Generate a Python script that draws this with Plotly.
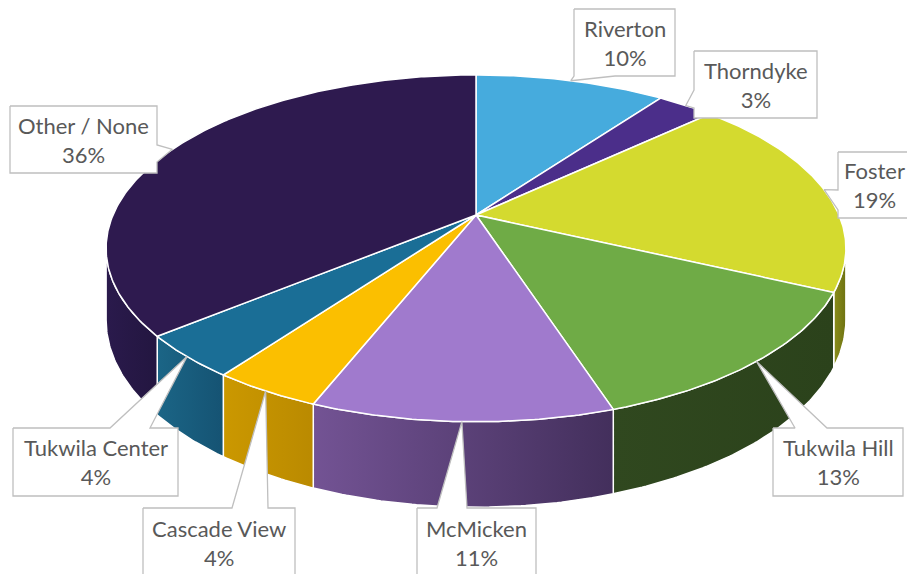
import numpy as np
import plotly.graph_objects as go

# Neighborhood shares (percent), clockwise from 12 o'clock
categories = ["Riverton", "Thorndyke", "Foster", "Tukwila Hill", "McMicken",
              "Cascade View", "Tukwila Center", "Other / None"]
values = [10, 3, 19, 13, 11, 4, 4, 36]

# Slice styling: top face colour, and wall gradient (left -> right)
top_colors = ["#46ABDD", "#4B2E8A", "#D4DA2F", "#6FAB46", "#A07ACD",
              "#FBBF00", "#1A6E96", "#2E1A4F"]
wall_colors = [("#2F7FA6", "#24698C"), ("#35206A", "#2A1955"),
               ("#8A8E1A", "#6E7212"), ("#30481F", "#2B421B"),
               ("#735394", "#432F5C"), ("#CB9800", "#BA8A00"),
               ("#1B6586", "#155373"), ("#2A1A4C", "#231640")]

# Projection of the tilted disc (pixel space)
CX, CY = 476.0, 215.0
RX, RY = 363.0, 167.0
K = 5.2          # perspective strength
DEPTH = 69.0     # wall height at mid-depth


def project(theta, drop=0.0):
    u, v = np.sin(theta), np.cos(theta)
    s = K / (K + v)
    return CX + RX * u * s, CY - RY * v * s + drop * s


def arc(a, b, drop=0.0):
    n = max(int(abs(b - a) / 0.01), 2)
    t = np.linspace(a, b, n)
    return project(t, drop)


total = float(sum(values))
bounds = np.concatenate([[0.0], np.cumsum(values) / total]) * 2 * np.pi

# Visible front wall between the silhouette extremes
grid = np.linspace(0, 2 * np.pi, 4001)
gx, _ = project(grid)
right_lim = grid[:2000][np.argmax(gx[:2000])]
left_lim = grid[2000:][np.argmin(gx[2000:])]

fig = go.Figure()

# Walls
for i in range(len(values)):
    a = max(bounds[i], right_lim)
    b = min(bounds[i + 1], left_lim)
    if b <= a:
        continue
    tx, ty = arc(a, b)
    bx, by = arc(b, a, DEPTH)
    xs = np.concatenate([tx, bx, tx[:1]])
    ys = np.concatenate([ty, by, ty[:1]])
    c0, c1 = wall_colors[i]
    fig.add_trace(go.Scatter(
        x=xs, y=ys, mode="lines", fill="toself", fillcolor=c0,
        fillgradient=dict(type="horizontal", colorscale=[[0, c0], [1, c1]]),
        line=dict(color="white", width=1.5), hoverinfo="skip", showlegend=False))

# Top faces
for i in range(len(values)):
    ax_, ay_ = arc(bounds[i], bounds[i + 1])
    xs = np.concatenate([[CX], ax_, [CX]])
    ys = np.concatenate([[CY], ay_, [CY]])
    fig.add_trace(go.Scatter(
        x=xs, y=ys, mode="lines", fill="toself", fillcolor=top_colors[i],
        line=dict(color="white", width=1.5), hoverinfo="skip",
        name=categories[i], showlegend=False))

# Callout boxes: (x0, y0, x1, y1, side of pointer, pointer base a, b, text x, text y)
callouts = [
    (574, 9, 675, 76, "bottom", 574, 615, 624.5, 42.5),
    (694, 51, 817, 118, "left", 90, 108, 755.5, 84.5),
    (838, 152, 940, 218, "left", 190, 210, 874, 185),
    (773, 428, 903, 496, "top", 795, 827, 838, 462),
    (417, 508, 536, 580, "top", 437, 467, 476.5, 543),
    (143, 508, 295, 580, "top", 232, 268, 219, 543),
    (13, 428, 178, 496, "top", 110, 150, 95.5, 462),
    (10, 106, 157, 173, "right", 145, 162, 83.5, 139.5),
]

annotations = []
for i, (x0, y0, x1, y1, side, pa, pb, lx, ly) in enumerate(callouts):
    mid = 0.5 * (bounds[i] + bounds[i + 1])
    tipx, tipy = project(mid)
    tip = (float(tipx), float(tipy))
    if side == "top":
        pts = [(x0, y0), (pa, y0), tip, (pb, y0), (x1, y0), (x1, y1), (x0, y1)]
    elif side == "right":
        pts = [(x0, y0), (x1, y0), (x1, pa), tip, (x1, pb), (x1, y1), (x0, y1)]
    elif side == "bottom":
        pts = [(x0, y0), (x1, y0), (x1, y1), (pb, y1), tip, (pa, y1), (x0, y1)]
    else:
        pts = [(x0, y0), (x1, y0), (x1, y1), (x0, y1), (x0, pb), tip, (x0, pa)]
    pts.append(pts[0])
    fig.add_trace(go.Scatter(
        x=[p[0] for p in pts], y=[p[1] for p in pts], mode="lines",
        fill="toself", fillcolor="white",
        line=dict(color="#BFBFBF", width=1.3), hoverinfo="skip",
        showlegend=False))
    annotations.append(dict(
        x=lx, y=ly, xref="x", yref="y", showarrow=False,
        text=f"{categories[i]}<br>{values[i]}%",
        font=dict(family="Lato", size=22, color="#595959")))

fig.update_layout(
    width=907, height=574, margin=dict(l=0, r=0, t=0, b=0),
    paper_bgcolor="white", plot_bgcolor="white",
    xaxis=dict(range=[0, 907], visible=False, fixedrange=True),
    yaxis=dict(range=[574, 0], visible=False, fixedrange=True),
    annotations=annotations,
)

fig.write_html("out.html")
